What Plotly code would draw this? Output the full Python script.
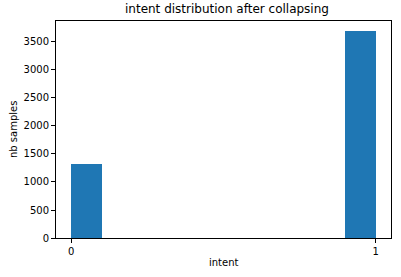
import plotly.graph_objects as go

bin_centers = [0.05, 0.95]
counts = [1320, 3690]
bin_width = 0.1
x_tick_vals = [0, 1]
x_tick_text = ["0", "1"]
y_tick_vals = [0, 500, 1000, 1500, 2000, 2500, 3000, 3500]

title = "intent distribution after collapsing"
x_label = "intent"
y_label = "nb samples"

fig = go.Figure()
fig.add_trace(go.Bar(
    x=bin_centers, y=counts, width=[bin_width] * len(counts),
    marker=dict(color="#1f77b4", line=dict(width=0)),
))

font = dict(family="DejaVu Sans", size=10, color="black")
axis_common = dict(
    showline=True, linecolor="black", linewidth=1, mirror=True,
    ticks="outside", ticklen=4, tickcolor="black", tickwidth=1,
    showgrid=False, zeroline=False, tickfont=font, automargin=False,
)
fig.update_layout(
    width=401, height=277,
    margin=dict(l=56, r=10, t=21, b=39),
    paper_bgcolor="white", plot_bgcolor="white",
    showlegend=False,
    bargap=0,
    title=dict(text=title, x=0.566, xanchor="center", y=1 - 9 / 277, yanchor="middle",
               font=dict(family="DejaVu Sans", size=12, color="black")),
    xaxis=dict(range=[-0.05, 1.05], tickvals=x_tick_vals, ticktext=x_tick_text, **axis_common),
    yaxis=dict(range=[0, 3874.5], tickvals=y_tick_vals, **axis_common),
    annotations=[
        dict(text=x_label, xref="paper", yref="paper", x=0.5, y=-24 / 217,
             xanchor="center", yanchor="middle", showarrow=False, font=font),
        dict(text=y_label, xref="paper", yref="paper", x=-42.5 / 335, y=0.5,
             xanchor="center", yanchor="middle", showarrow=False, font=font, textangle=-90),
    ],
)
fig.write_html("out.html")
